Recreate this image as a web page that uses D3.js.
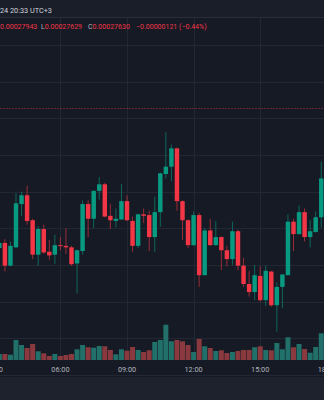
<!DOCTYPE html>
<html>
<head>
<meta charset="utf-8">
<script src="https://cdn.jsdelivr.net/npm/d3@7"></script>
<style>
  html, body { margin: 0; padding: 0; background: #161a25; }
  svg { display: block; }
  text { font-family: Roboto, "Noto Sans", sans-serif; }
</style>
</head>
<body>
<div id="chart"></div>
<script>
// 15-minute bars, prices in units of 1e-8
const times = [
  "03:15","03:30","03:45","04:00","04:15","04:30","04:45","05:00","05:15","05:30","05:45",
  "06:00","06:15","06:30","06:45","07:00","07:15","07:30","07:45","08:00","08:15","08:30","08:45",
  "09:00","09:15","09:30","09:45","10:00","10:15","10:30","10:45","11:00","11:15","11:30","11:45",
  "12:00","12:15","12:30","12:45","13:00","13:15","13:30","13:45","14:00","14:15","14:30","14:45",
  "15:00","15:15","15:30","15:45","16:00","16:15","16:30","16:45","17:00","17:15","17:30","17:45"
];
const opens = [
  27823,27830,27799,27824,27883,27895,27861,27814,27849,27818,27814,
  27827,27826,27824,27802,27819,27883,27863,27901,27910,27867,27860,27862,
  27887,27860,27826,27869,27868,27838,27872,27924,27934,27959,27887,27861,
  27827,27868,27786,27847,27827,27838,27820,27808,27846,27799,27774,27763,
  27785,27752,27791,27745,27770,27786,27859,27842,27872,27838,27845,27865
];
const highs = [
  27833,27835,27832,27898,27900,27908,27863,27853,27855,27834,27841,
  27838,27850,27826,27821,27888,27888,27902,27920,27912,27883,27877,27910,
  27895,27866,27870,27877,27874,27893,27926,27981,27964,27960,27888,27862,
  27873,27871,27850,27863,27860,27839,27826,27859,27848,27810,27792,27800,
  27798,27799,27792,27776,27787,27869,27863,27881,27877,27861,27873,27941
];
const lows = [
  27820,27791,27798,27823,27867,27855,27808,27799,27815,27807,27801,
  27820,27815,27799,27761,27814,27838,27850,27889,27865,27849,27851,27861,
  27860,27818,27823,27857,27819,27818,27852,27918,27914,27874,27834,27823,
  27826,27770,27786,27826,27826,27793,27798,27800,27793,27770,27757,27752,
  27750,27744,27743,27709,27741,27786,27819,27842,27832,27824,27844,27851
];
const closes = [
  27830,27799,27826,27884,27895,27860,27814,27849,27817,27813,27827,
  27826,27824,27801,27820,27883,27863,27901,27910,27866,27861,27863,27887,
  27861,27826,27869,27867,27838,27872,27925,27934,27959,27887,27861,27827,
  27868,27786,27847,27827,27838,27820,27808,27846,27799,27774,27763,27786,
  27752,27792,27745,27770,27787,27859,27842,27872,27838,27846,27865,27918
];
const volumes = [
  60,60,53,200,150,120,160,87,67,40,60,
  40,50,60,107,150,127,123,140,137,100,57,107,
  93,130,100,80,97,180,200,353,187,200,187,150,
  80,210,137,120,90,97,70,80,90,100,100,127,
  137,100,97,170,107,227,127,160,110,73,130,267
];
const timeTicks = ["03:00","06:00","09:00","12:00","15:00","18:00"];
const priceTicks = [27650,27700,27750,27800,27850,27900,27950,28000,28050,28100];
const priceLine = 28014;
const headerText = "24 20:33 UTC+3";
const legendItems = [
  { label: "H", value: "0.00027943" },
  { label: "L", value: "0.00027629" },
  { label: "C", value: "0.00027630" }
];
const legendChange = "\u22120.00000121 (\u22120.44%)";

const W = 324, H = 400;
const up = "#089981", down = "#f23645";
const upVol = "#22706a", downVol = "#8a3a3f";

const parse = s => { const [h, m] = s.split(":").map(Number); return new Date(2024, 5, 1, h, m); };
const data = times.map((t, i) => ({
  t: parse(t), o: opens[i], h: highs[i], l: lows[i], c: closes[i], v: volumes[i]
}));

const step = 5.55;
const x = d3.scaleTime()
  .domain([parse("03:15"), parse("18:00")])
  .range([-0.65, -0.65 + 59 * step]);
const y = d3.scaleLinear().domain([27700, 28000]).range([338.25, 118.3]);
const yv = d3.scaleLinear().domain([0, 400]).range([360, 320]);

const svg = d3.select("#chart").append("svg").attr("width", W).attr("height", H);

svg.append("rect").attr("width", W).attr("height", H).attr("fill", "#161a25");

// grid
const grid = svg.append("g");
grid.selectAll("line.h").data(priceTicks).join("line")
  .attr("x1", 0).attr("x2", W)
  .attr("y1", d => Math.round(y(d)) + 0.5).attr("y2", d => Math.round(y(d)) + 0.5)
  .attr("stroke", "#232733").attr("stroke-width", 1);
grid.selectAll("line.v").data(timeTicks.map(parse)).join("line")
  .attr("x1", d => Math.round(x(d)) + 0.5).attr("x2", d => Math.round(x(d)) + 0.5)
  .attr("y1", 17).attr("y2", 360)
  .attr("stroke", "#232733").attr("stroke-width", 1);

// price line
svg.append("line")
  .attr("x1", 0).attr("x2", W)
  .attr("y1", Math.round(y(priceLine)) + 0.5).attr("y2", Math.round(y(priceLine)) + 0.5)
  .attr("stroke", down).attr("stroke-opacity", 0.38)
  .attr("stroke-dasharray", "2 1");

// volume bars
const vw = step * 0.9;
svg.append("g").selectAll("rect").data(data).join("rect")
  .attr("x", d => x(d.t) - vw / 2)
  .attr("width", vw)
  .attr("y", d => yv(d.v))
  .attr("height", d => yv(0) - yv(d.v))
  .attr("fill", d => d.c >= d.o ? upVol : downVol);

// candles
const bw = step * 0.8;
const candles = svg.append("g").selectAll("g").data(data).join("g");
candles.append("line")
  .attr("x1", d => x(d.t)).attr("x2", d => x(d.t))
  .attr("y1", d => y(d.h)).attr("y2", d => y(d.l))
  .attr("stroke", d => d.c >= d.o ? up : down)
  .attr("stroke-opacity", 0.6)
  .attr("stroke-width", 1);
candles.append("rect")
  .attr("x", d => x(d.t) - bw / 2)
  .attr("width", bw)
  .attr("y", d => y(Math.max(d.o, d.c)))
  .attr("height", d => Math.max(1, Math.abs(y(d.o) - y(d.c))))
  .attr("fill", d => d.c >= d.o ? up : down);

// time axis
svg.append("g").selectAll("text").data(timeTicks).join("text")
  .attr("x", d => x(parse(d)))
  .attr("y", 371.5)
  .attr("text-anchor", "middle")
  .attr("font-size", 7.3)
  .attr("fill", "#b2b5be")
  .text(d => d);

// bottom panel
svg.append("rect").attr("x", 0).attr("y", 377).attr("width", W).attr("height", H - 377)
  .attr("fill", "#1e222d");

// header bar
svg.append("rect").attr("x", 0).attr("y", 0).attr("width", W).attr("height", 17)
  .attr("fill", "#1a1e29");
svg.append("line").attr("x1", 0).attr("x2", W).attr("y1", 17.5).attr("y2", 17.5)
  .attr("stroke", "#2a2e39");
svg.append("text").attr("x", 0).attr("y", 12.5)
  .attr("font-size", 7.3).attr("fill", "#d1d4dc")
  .text(headerText);

// OHLC legend
const legend = svg.append("text").attr("y", 29).attr("font-size", 7);
const legendX = [-5, 41, 88];
legendItems.forEach((it, i) => {
  legend.append("tspan").attr("x", legendX[i]).attr("fill", "#b2b5be").text(it.label);
  legend.append("tspan").attr("fill", down).text(it.value);
});
legend.append("tspan").attr("x", 136).attr("fill", down).text(legendChange);
</script>
</body>
</html>
